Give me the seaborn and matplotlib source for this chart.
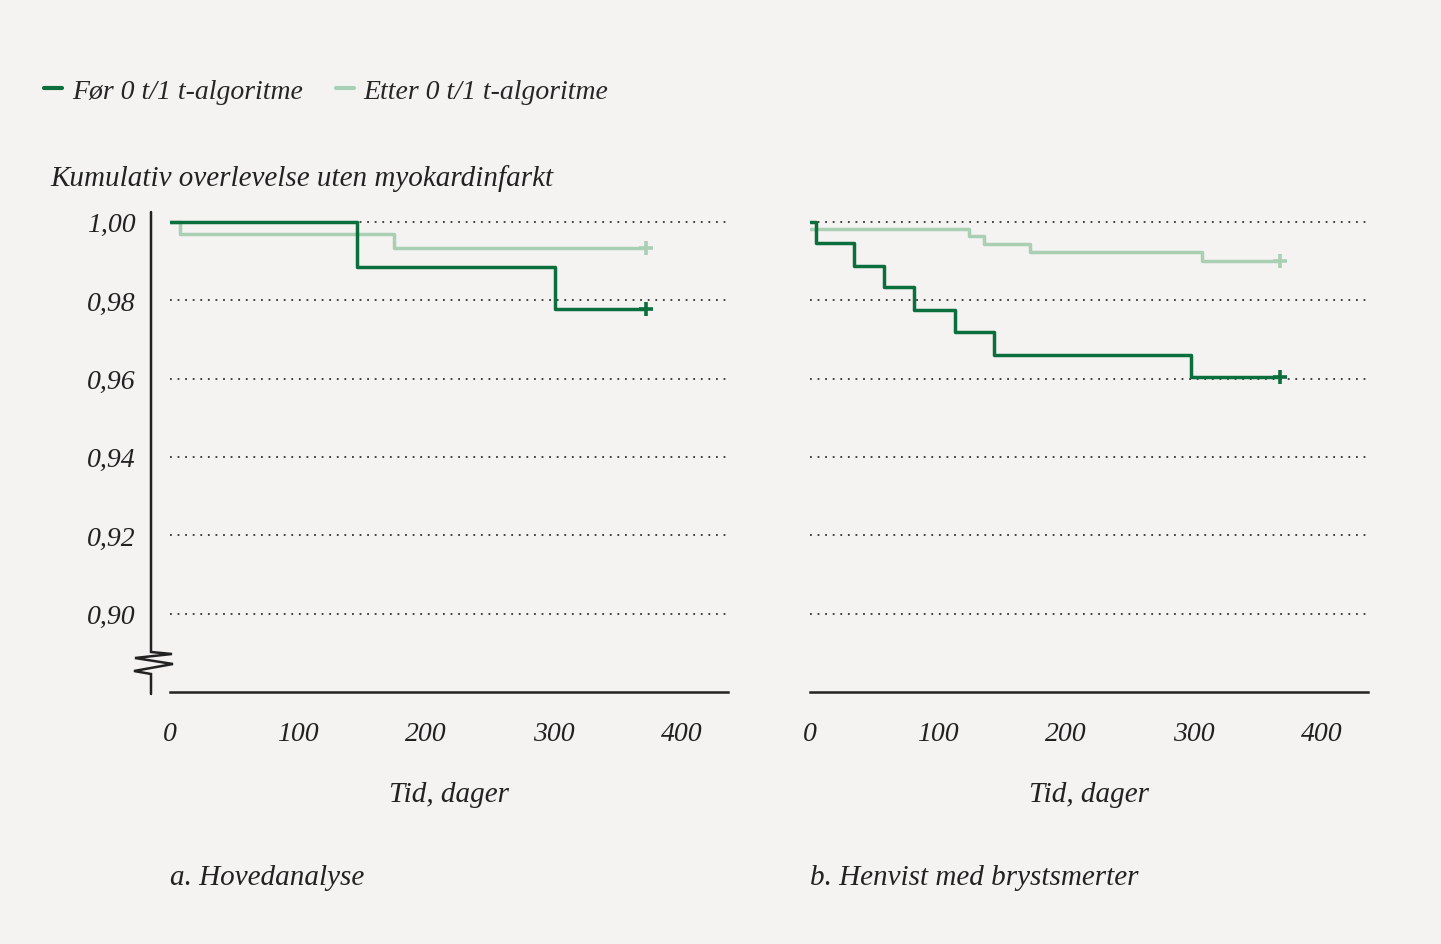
import numpy as np
import pandas as pd
import matplotlib.pyplot as plt
from matplotlib.lines import Line2D
import seaborn as sns

# =========================================
# Data
# =========================================
groups = ["Før 0 t/1 t-algoritme", "Etter 0 t/1 t-algoritme"]
colors = ["#0b6e3d", "#a9cfb5"]

# a. Hovedanalyse
a_for_t = [0, 146, 301, 372]
a_for_s = [1.000, 0.9885, 0.9777, 0.9777]
a_etter_t = [0, 8, 175, 372]
a_etter_s = [1.000, 0.9969, 0.9934, 0.9934]

# b. Henvist med brystsmerter
b_for_t = [0, 5, 34, 58, 81, 113, 144, 298, 367]
b_for_s = [1.000, 0.9946, 0.9888, 0.9834, 0.9775, 0.9718, 0.9661, 0.9603, 0.9603]
b_etter_t = [0, 124, 136, 172, 306, 367]
b_etter_s = [0.9981, 0.9965, 0.9943, 0.9923, 0.9900, 0.9900]

yticks = [0.90, 0.92, 0.94, 0.96, 0.98, 1.00]
ytick_labels = ["0,90", "0,92", "0,94", "0,96", "0,98", "1,00"]
xticks = [0, 100, 200, 300, 400]
xtick_labels = ["0", "100", "200", "300", "400"]

panel_titles = ["a. Hovedanalyse", "b. Henvist med brystsmerter"]
ylabel = "Kumulativ overlevelse uten myokardinfarkt"
xlabel = "Tid, dager"

# =========================================
# Style
# =========================================
bg = "#f4f3f1"
ink = "#222222"
sns.set_theme(style="white")
plt.rcParams["font.family"] = ["Liberation Serif", "DejaVu Serif"]
plt.rcParams["font.style"] = "italic"
fs = 21      # titles / labels
fs_tick = 20  # tick labels, legend

W, H = 1441, 945
fig = plt.figure(figsize=(W / 100, H / 100), dpi=100, facecolor=bg)


def px(x, y):
    return x / W, 1 - y / H


def make_df(for_t, for_s, etter_t, etter_s):
    return pd.concat([
        pd.DataFrame({"tid": for_t, "surv": for_s, "gruppe": groups[0]}),
        pd.DataFrame({"tid": etter_t, "surv": etter_s, "gruppe": groups[1]}),
    ], ignore_index=True)


panels = [
    (make_df(a_for_t, a_for_s, a_etter_t, a_etter_s), 170),
    (make_df(b_for_t, b_for_s, b_etter_t, b_etter_s), 810),
]

axes = []
for i, (df, left_px) in enumerate(panels):
    l, b = px(left_px, 693)
    ax = fig.add_axes([l, b, 558 / W, 480 / H])
    ax.set_facecolor(bg)
    ax.set_xlim(0, 436)
    ax.set_ylim(0.88, 1.0025)

    # dotted gridlines
    for yv in yticks:
        ax.axhline(yv, color="#333333", lw=1.3, ls=(0, (1, 3.2)), zorder=1)

    # light line below, dark on top
    sns.lineplot(data=df, x="tid", y="surv", hue="gruppe", hue_order=groups[::-1],
                 palette=colors[::-1], drawstyle="steps-post", estimator=None,
                 linewidth=2.5, legend=False, ax=ax, zorder=3)
    # censoring marks at the end
    for g, c in zip(groups[::-1], colors[::-1]):
        last = df[df["gruppe"] == g].iloc[-1]
        ax.plot(last["tid"], last["surv"], marker="+", ms=10, mew=2.6, color=c, zorder=4)

    for s in ["top", "right", "left"]:
        ax.spines[s].set_visible(False)
    ax.spines["bottom"].set_color(ink)
    ax.spines["bottom"].set_linewidth(1.8)
    ax.tick_params(length=0, labelsize=fs_tick, colors=ink)
    ax.set_xticks(xticks)
    ax.set_xticklabels(xtick_labels, fontsize=fs_tick, style="italic")
    ax.tick_params(axis="x", pad=21)
    ax.set_yticks(yticks)
    if i == 0:
        ax.set_yticklabels(ytick_labels, fontsize=fs_tick, style="italic")
        ax.tick_params(axis="y", pad=25)
    else:
        ax.set_yticklabels([])
    ax.set_xlabel(xlabel, fontsize=fs, style="italic", color=ink, labelpad=25)
    ax.set_ylabel("")
    axes.append(ax)

    tx, ty = px(left_px, 878)
    fig.text(tx, ty, panel_titles[i], fontsize=fs, style="italic", color=ink, va="center", ha="left")

# y axis with break mark (left panel)
axis_pts = [(151, 213), (151, 653), (172, 655), (135, 659), (173, 665),
            (134, 672), (151, 675), (151, 695)]
fx = [px(x, y)[0] for x, y in axis_pts]
fy = [px(x, y)[1] for x, y in axis_pts]
fig.add_artist(Line2D(fx, fy, color=ink, lw=1.8, solid_joinstyle="miter"))

# y label
yx, yy = px(50, 179)
fig.text(yx, yy, ylabel, fontsize=fs, style="italic", color=ink, va="center", ha="left")

# legend
handles = [Line2D([0], [0], color=c, lw=3) for c in colors]
fig.legend(handles, groups, loc="center left", bbox_to_anchor=px(19, 92), ncol=2,
           frameon=False, handlelength=0.65, handletextpad=0.35,
           columnspacing=1.2, prop={"style": "italic", "size": fs_tick})

fig.savefig("out.png", dpi=100, facecolor=bg)
